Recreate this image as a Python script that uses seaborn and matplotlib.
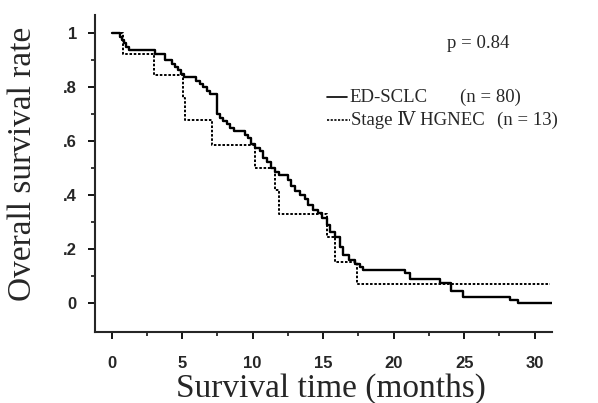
import numpy as np
import pandas as pd
import matplotlib
matplotlib.use("Agg")
import matplotlib.pyplot as plt
import seaborn as sns

# ---- data ----
sclc_time = [0, 0.6, 0.75, 0.9, 1.05, 1.2, 3.1, 3.8, 4.3, 4.5, 4.7, 4.9, 5.1,
             6.0, 6.25, 6.5, 6.75, 7.0, 7.45, 7.7, 7.9, 8.15, 8.4, 8.65, 9.45,
             9.7, 9.9, 10.15, 10.5, 10.75, 11.0, 11.3, 11.6, 11.85, 12.5, 12.75,
             13.0, 13.35, 13.7, 13.95, 14.3, 14.65, 14.9, 15.25, 15.5, 15.85,
             16.2, 16.4, 16.8, 17.25, 17.6, 17.85, 20.8, 21.15, 23.3, 24.1,
             24.95, 28.25, 28.8, 31.2]
sclc_surv = [1.0, 0.9875, 0.975, 0.9625, 0.95, 0.9375, 0.925, 0.9, 0.8875, 0.875,
             0.8625, 0.85, 0.8375, 0.825, 0.8125, 0.8, 0.7875, 0.775, 0.7, 0.6875,
             0.675, 0.6625, 0.65, 0.6375, 0.625, 0.6125, 0.59, 0.575, 0.5625,
             0.5375, 0.525, 0.5, 0.4875, 0.475, 0.4575, 0.435, 0.415, 0.4, 0.385,
             0.365, 0.3475, 0.335, 0.315, 0.29, 0.265, 0.2475, 0.21, 0.18, 0.16,
             0.1475, 0.135, 0.125, 0.1125, 0.09, 0.077, 0.047, 0.025, 0.0125,
             0.0, 0.0]

hgnec_time = [0, 0.8, 3.0, 5.05, 5.2, 7.1, 10.15, 11.6, 11.9, 15.25, 15.85, 17.4, 31.1]
hgnec_surv = [1.0, 0.923, 0.846, 0.76, 0.68, 0.586, 0.5, 0.42, 0.33, 0.245, 0.154, 0.07, 0.07]

group_names = ["ED-SCLC", "Stage \u2163 HGNEC"]
group_n = ["(n = 80)", "(n = 13)"]
p_text = "p = 0.84"

x_ticks = [0, 5, 10, 15, 20, 25, 30]
y_ticks = [0, 0.2, 0.4, 0.6, 0.8, 1.0]
y_tick_labels = ["0", ".2", ".4", ".6", ".8", "1"]

# ---- figure ----
sns.set_style("ticks")
serif = ["Liberation Serif", "DejaVu Serif", "Noto Sans CJK JP"]
plt.rcParams["font.family"] = serif

fig = plt.figure(figsize=(5.98, 4.03), dpi=100)
ax = fig.add_axes([95 / 598, 1 - 332 / 403, 457 / 598, 317 / 403])

sns.lineplot(x=sclc_time, y=sclc_surv, drawstyle="steps-post", color="black",
             linewidth=1.7, estimator=None, sort=False, ax=ax)
sns.lineplot(x=hgnec_time, y=hgnec_surv, drawstyle="steps-post", color="black",
             linewidth=1.4, linestyle=(0, (1.3, 0.9)), estimator=None, sort=False, ax=ax)

ax.set_xlim(-1.18, 31.23)
ax.set_ylim(-0.106, 1.068)

sns.despine(ax=ax)
for s in ["left", "bottom"]:
    ax.spines[s].set_linewidth(1.5)

ax.set_xticks(x_ticks)
ax.set_xticks(np.arange(2.5, 31, 5), minor=True)
ax.set_yticks(y_ticks)
ax.set_yticklabels(y_tick_labels)
ax.set_yticks(np.arange(0.1, 1.0, 0.2), minor=True)
ax.tick_params(axis="both", which="major", direction="out", length=5, width=1.3,
               color="black")
ax.tick_params(axis="both", which="minor", direction="out", length=3, width=1.1,
               color="black")
ax.tick_params(axis="x", which="major", pad=12)
ax.tick_params(axis="y", which="major", pad=8)
for lab in ax.get_xticklabels() + ax.get_yticklabels():
    lab.set_fontfamily(["Liberation Sans", "DejaVu Sans"])
    lab.set_fontweight("bold")
    lab.set_fontsize(12)

ax.set_xlabel("Survival time (months)", fontsize=24)
ax.set_ylabel("Overall survival rate", fontsize=24)
ax.xaxis.label.set_va("center")
ax.yaxis.label.set_va("center")
ax.xaxis.set_label_coords(0.517, -0.177)
ax.yaxis.set_label_coords(-0.158, 0.531)

# p-value and legend
ax.text(23.8, 0.964, p_text, fontsize=13.5, ha="left", va="center")
ax.plot([15.3, 16.7], [0.764, 0.764], color="black", lw=1.2)
ax.plot([15.3, 16.9], [0.679, 0.679], color="black", lw=1.2, linestyle=(0, (1.3, 0.9)))
ax.text(16.85, 0.764, group_names[0], fontsize=13.5, ha="left", va="center")
ax.text(24.7, 0.764, group_n[0], fontsize=13.5, ha="left", va="center")
ax.text(17.0, 0.679, group_names[1], fontsize=13.5, ha="left", va="center")
ax.text(27.3, 0.679, group_n[1], fontsize=13.5, ha="left", va="center", clip_on=False)

fig.savefig("out.png", dpi=100)
